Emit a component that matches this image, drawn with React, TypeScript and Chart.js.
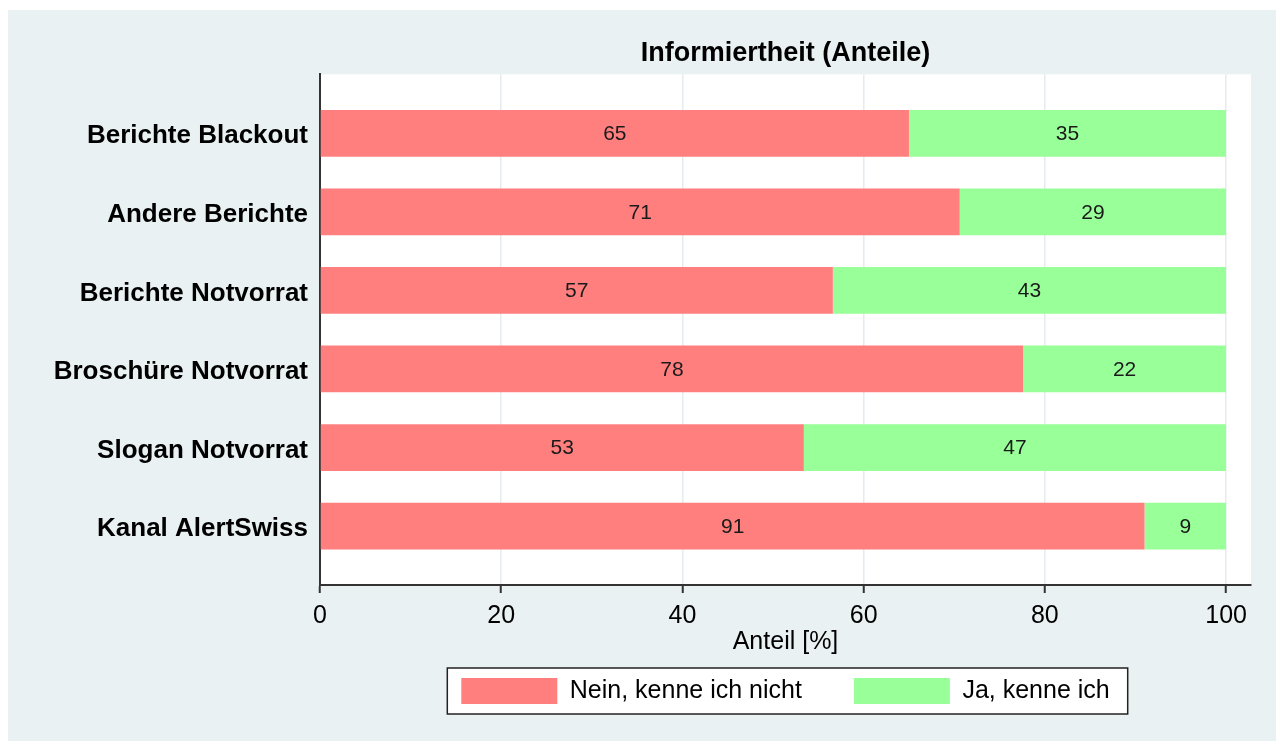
import React, { useEffect, useRef } from 'react';
import { Chart, registerables } from 'chart.js';

Chart.register(...registerables);

const categories = [
  'Berichte Blackout',
  'Andere Berichte',
  'Berichte Notvorrat',
  'Broschüre Notvorrat',
  'Slogan Notvorrat',
  'Kanal AlertSwiss',
];
const neinValues = [65.0, 70.6, 56.6, 77.6, 53.4, 91.0];
const jaValues = [35.0, 29.4, 43.4, 22.4, 46.6, 9.0];
const seriesLabels = ['Nein, kenne ich nicht', 'Ja, kenne ich'];
const xTickValues = [0, 20, 40, 60, 80, 100];
const chartTitle = 'Informiertheit (Anteile)';
const xAxisTitle = 'Anteil [%]';

const FONT = "'Liberation Sans', Arial, Helvetica, sans-serif";
const BG = '#E9F1F3';
const RED = '#FF7F7F';
const GREEN = '#99FF99';

const backgroundPlugin = {
  id: 'bgPlugin',
  beforeDraw(chart: any) {
    const { ctx, width, height, chartArea } = chart;
    ctx.save();
    ctx.fillStyle = BG;
    ctx.fillRect(0, 0, width, height);
    ctx.fillStyle = '#FFFFFF';
    ctx.fillRect(chartArea.left, chartArea.top, chartArea.right - chartArea.left, chartArea.bottom - chartArea.top);
    ctx.restore();
  },
};

const valueLabelPlugin = {
  id: 'valueLabels',
  afterDatasetsDraw(chart: any) {
    const { ctx } = chart;
    ctx.save();
    ctx.font = `21px ${FONT}`;
    ctx.fillStyle = '#1A1A1A';
    ctx.textAlign = 'center';
    ctx.textBaseline = 'middle';
    chart.data.datasets.forEach((ds: any, d: number) => {
      const meta = chart.getDatasetMeta(d);
      meta.data.forEach((el: any, i: number) => {
        const { x, y, base } = el.getProps(['x', 'y', 'base'], true);
        const v = ds.data[i].x;
        ctx.fillText(String(Math.round(v)), (x + base) / 2, y + 1);
      });
    });
    ctx.restore();
  },
};

function legendFrame(chart: any) {
  const lg = chart.legend;
  if (!lg || !lg.legendHitBoxes || !lg.legendHitBoxes.length) return null;
  const hb = lg.legendHitBoxes;
  const first = hb[0];
  const last = hb[hb.length - 1];
  const left = first.left - 14;
  const right = last.left + last.width + 18;
  const top = first.top - 10;
  const bottom = first.top + first.height + 10;
  return { left, right, top, bottom };
}

const legendBorderPlugin = {
  id: 'legendBorder',
  beforeDraw(chart: any) {
    const f = legendFrame(chart);
    if (!f) return;
    const { ctx } = chart;
    ctx.save();
    ctx.fillStyle = '#FFFFFF';
    ctx.fillRect(f.left, f.top, f.right - f.left, f.bottom - f.top);
    ctx.restore();
  },
  afterDraw(chart: any) {
    const f = legendFrame(chart);
    if (!f) return;
    const { ctx } = chart;
    ctx.save();
    ctx.strokeStyle = '#222222';
    ctx.lineWidth = 1.5;
    ctx.strokeRect(f.left, f.top, f.right - f.left, f.bottom - f.top);
    ctx.restore();
  },
};

export default function App() {
  const canvasRef = useRef<HTMLCanvasElement | null>(null);

  useEffect(() => {
    if (!canvasRef.current) return;
    const chart = new Chart(canvasRef.current, {
      type: 'bar',
      data: {
        datasets: [
          {
            label: seriesLabels[0],
            data: neinValues.map((v, i) => ({ x: v, y: i })),
            backgroundColor: RED,
            borderColor: RED,
            borderWidth: 0,
          },
          {
            label: seriesLabels[1],
            data: jaValues.map((v, i) => ({ x: v, y: i })),
            backgroundColor: GREEN,
            borderColor: GREEN,
            borderWidth: 0,
          },
        ],
      } as any,
      options: {
        indexAxis: 'y',
        responsive: false,
        animation: false,
        devicePixelRatio: 1,
        categoryPercentage: 1,
        barPercentage: 0.595,
        layout: { padding: { left: 0, right: 25, top: 0, bottom: 27 } },
        plugins: {
          title: {
            display: true,
            text: chartTitle,
            fullSize: false,
            color: '#000000',
            font: { family: FONT, size: 27, weight: 'bold' },
            padding: { top: 27, bottom: 5 },
          },
          legend: {
            position: 'bottom',
            fullSize: false,
            labels: {
              boxWidth: 96,
              boxHeight: 26,
              padding: 52,
              color: '#000000',
              font: { family: FONT, size: 25 },
            },
          },
          tooltip: { enabled: false },
        },
        scales: {
          x: {
            type: 'linear',
            min: 0,
            max: 102.75,
            stacked: true,
            afterBuildTicks: (s: any) => {
              s.ticks = xTickValues.map((v) => ({ value: v }));
            },
            grid: {
              color: '#E4ECEF',
              lineWidth: 1.5,
              tickColor: '#333333',
              tickLength: 8,
              tickWidth: 2,
              drawTicks: true,
            },
            border: { display: true, color: '#333333', width: 2 },
            ticks: {
              color: '#000000',
              font: { family: FONT, size: 25 },
              padding: 8,
              maxRotation: 0,
              autoSkip: false,
            },
            title: {
              display: true,
              text: xAxisTitle,
              color: '#000000',
              font: { family: FONT, size: 25 },
              padding: { top: -12, bottom: -31 },
            },
          },
          y: {
            type: 'linear',
            min: -0.75,
            max: 5.75,
            reverse: true,
            stacked: true,
            offset: false,
            afterBuildTicks: (s: any) => {
              s.ticks = categories.map((_, i) => ({ value: i }));
            },
            afterFit: (s: any) => {
              s.width = 312;
            },
            grid: { display: false, drawTicks: false, offset: false },
            border: { display: true, color: '#333333', width: 2 },
            ticks: {
              color: '#000000',
              font: { family: FONT, size: 26, weight: 'bold' },
              padding: 12,
              labelOffset: 3,
              autoSkip: false,
              callback: (v: any) => categories[v as number] ?? '',
            },
          },
        },
      } as any,
      plugins: [backgroundPlugin, legendBorderPlugin, valueLabelPlugin],
    });
    return () => chart.destroy();
  }, []);

  return (
    <div style={{ position: 'fixed', left: 8, top: 10, width: 1268, height: 731 }}>
      <canvas ref={canvasRef} width={1268} height={731} style={{ display: 'block' }} />
    </div>
  );
}
